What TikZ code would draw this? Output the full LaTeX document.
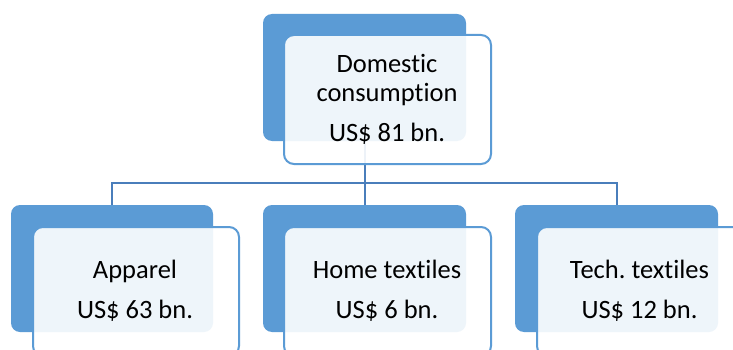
\documentclass[tikz,border=0pt]{standalone}
\usepackage{fontspec}
\setmainfont{Carlito}[Ligatures={NoCommon,NoRare,NoContextual}]
\frenchspacing
\definecolor{darkblue}{HTML}{5B9BD5}
\definecolor{connblue}{HTML}{4A7EBB}
\tikzset{
  darkbox/.style={fill=darkblue, draw=none, rounded corners=9pt},
  lightbox/.style={fill=white, fill opacity=0.9, draw=darkblue, line width=2pt, rounded corners=10pt},
  conn/.style={draw=connblue, line width=2pt},
  lbl/.style={anchor=base, inner sep=0pt, font=\fontsize{26.5}{31.8}\selectfont, text=black}
}
\begin{document}
\begin{tikzpicture}[x=1pt, y=-1pt]
\clip (0,0) rectangle (733,350);
\fill[white] (0,0) rectangle (733,350);
% dark back boxes
\node[darkbox, minimum width=203pt, minimum height=127pt, inner sep=0pt] (d0) at (364.5,77.5) {};
\node[darkbox, minimum width=202pt, minimum height=127pt, inner sep=0pt] (d1) at (112,268.5) {};
\node[darkbox, minimum width=203pt, minimum height=127pt, inner sep=0pt] (d2) at (364.5,268.5) {};
\node[darkbox, minimum width=203pt, minimum height=127pt, inner sep=0pt] (d3) at (616.5,268.5) {};
% connectors
\draw[conn] (d0.south) -- ++(0,42) coordinate (j);
\draw[conn] (d1.north) |- (j) -| (d3.north);
\draw[conn] (j) -- (d2.north);
% light front boxes
\node[lightbox, minimum width=207pt, minimum height=129pt, inner sep=0pt] (b0) at (387.5,99.5) {};
\node[lightbox, minimum width=206pt, minimum height=129pt, inner sep=0pt] (b1) at (136,291.5) {};
\node[lightbox, minimum width=207pt, minimum height=129pt, inner sep=0pt] (b2) at (387.5,291.5) {};
\node[lightbox, minimum width=206pt, minimum height=129pt, inner sep=0pt] (b3) at (640,291.5) {};
% texts
\node[lbl] (t0a) at (387,73) {Domestic};
\node[lbl] (t0b) at (387,101.7) {consumption};
\node[lbl] (t0c) at (387,142) {US\$ 81 bn.};
\node[lbl] (t1a) at (135,278) {Apparel};
\node[lbl] (t1b) at (135,318) {US\$ 63 bn.};
\node[lbl] (t2a) at (387,278) {Home textiles};
\node[lbl] (t2b) at (387,318) {US\$ 6 bn.};
\node[lbl] (t3a) at (639.5,278) {Tech. textiles};
\node[lbl] (t3b) at (639.5,318) {US\$ 12 bn.};
\end{tikzpicture}
\end{document}
